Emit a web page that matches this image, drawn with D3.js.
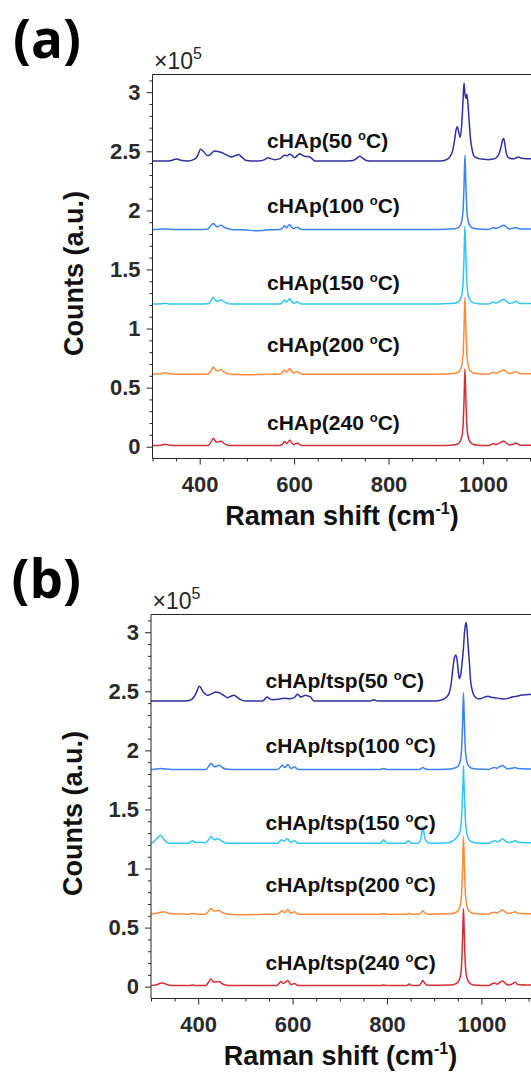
<!DOCTYPE html>
<html>
<head>
<meta charset="utf-8">
<script src="https://cdn.jsdelivr.net/npm/d3@7"></script>
<style>
  html, body { margin: 0; padding: 0; background: #fff; }
  svg { display: block; overflow: hidden; }
</style>
</head>
<body>
<svg id="chart" width="531" height="1075"></svg>
<script>
// ---------------- DATA ----------------
const temperatures = [50, 100, 150, 200, 240];
const prefixA = "cHAp";
const prefixB = "cHAp/tsp";
const xTicksMajor = [400, 600, 800, 1000];
const xTickLabels = ["400", "600", "800", "1000"];
const yTicksMajor = [0, 0.5, 1, 1.5, 2, 2.5, 3];
const yTickLabels = ["0", "0.5", "1", "1.5", "2", "2.5", "3"];
const offsetsA = [2.418, 1.838, 1.207, 0.614, 0.009];
const offsetsB = [2.418, 1.838, 1.213, 0.614, 0.009];

// spectra: [Raman shift (cm-1), intensity above own baseline (x1e5 counts)]
const specA50 = [[300,0],[327,0],[340,0.005],[351,0.017],[362,0.004],[375,0],[387,0.011],[395,0.04],[402,0.099],[408,0.08],[417,0.045],[424,0.06],[431,0.085],[438,0.08],[445,0.074],[455,0.055],[467,0.034],[475,0.045],[482,0.054],[490,0.03],[497,0.006],[510,0],[524,0],[538,0.012],[545,0.028],[552,0.018],[559,0.011],[570,0.02],[580,0.048],[586,0.045],[591,0.06],[596,0.045],[601,0.028],[607,0.045],[612,0.062],[617,0.05],[622,0.04],[628,0.038],[633,0.034],[638,0.02],[644,0],[670,0],[700,0],[725,0.005],[732,0.02],[739,0.04],[746,0.022],[753,0.005],[765,0],[800,0],[850,0],[900,0],[916,0.003],[925,0.015],[930,0.034],[936,0.09],[940,0.176],[943,0.26],[946,0.29],[949,0.24],[952,0.2],[955,0.3],[958,0.52],[960,0.66],[962,0.57],[964,0.53],[966,0.565],[968,0.5],[971,0.33],[974,0.176],[977,0.1],[980,0.05],[985,0.03],[991,0.02],[1000,0.015],[1012,0.011],[1020,0.016],[1025,0.02],[1030,0.035],[1035,0.07],[1039,0.13],[1042,0.18],[1044,0.19],[1046,0.16],[1049,0.077],[1054,0.028],[1060,0.02],[1066,0.02],[1071,0.028],[1076,0.034],[1081,0.024],[1086,0.022],[1095,0.02],[1110,0.02]];
const specA100 = [[300,0],[320,0.003],[330,0.005],[345,0],[400,0],[416,0.002],[422,0.025],[429,0.051],[433,0.035],[437,0.023],[441,0.03],[446,0.037],[451,0.02],[457,0.011],[467,0],[500,-0.005],[517,-0.01],[531,-0.008],[545,-0.003],[570,0],[575,0.012],[580,0.031],[584,0.014],[587,0.03],[591,0.04],[595,0.02],[599,0.008],[603,0.016],[607,0.02],[611,0.008],[616,0],[700,0],[800,0],[900,0],[940,0.006],[945,0.012],[950,0.024],[953,0.044],[956,0.088],[958,0.165],[960,0.37],[962,0.63],[964,0.37],[966,0.165],[968,0.088],[971,0.044],[975,0.022],[980,0.01],[990,0.004],[1012,0],[1018,0.01],[1022,0.017],[1026,0.01],[1030,0.012],[1038,0.025],[1044,0.037],[1050,0.02],[1056,0.005],[1064,0.01],[1070,0.017],[1075,0.008],[1082,0.004],[1110,0.004]];
const specA150 = [[300,0],[320,0.003],[327,0.008],[335,0],[400,0],[418,0.002],[424,0.03],[429,0.057],[433,0.035],[437,0.023],[441,0.03],[446,0.034],[451,0.02],[457,0.008],[467,0],[570,0],[575,0.012],[580,0.034],[584,0.018],[587,0.028],[591,0.045],[595,0.02],[600,0.008],[604,0.016],[607,0.02],[611,0.008],[617,0],[700,0],[800,0],[900,0],[940,0.006],[945,0.013],[950,0.026],[953,0.047],[956,0.095],[958,0.18],[960,0.4],[962,0.66],[964,0.4],[966,0.18],[968,0.095],[971,0.047],[975,0.023],[980,0.01],[990,0.003],[1012,0],[1018,0.01],[1022,0.017],[1026,0.01],[1030,0.012],[1038,0.028],[1044,0.04],[1050,0.02],[1056,0.006],[1064,0.012],[1070,0.023],[1075,0.01],[1082,0.004],[1110,0.004]];
const specA200 = [[300,0],[318,0.004],[327,0.011],[336,0.003],[350,0],[400,0],[418,0.002],[424,0.03],[429,0.06],[433,0.038],[437,0.028],[441,0.033],[446,0.037],[451,0.02],[457,0.008],[467,0],[485,-0.004],[500,-0.006],[520,-0.004],[545,-0.001],[570,0],[575,0.012],[580,0.034],[584,0.018],[587,0.028],[591,0.048],[595,0.022],[600,0.008],[604,0.018],[607,0.023],[611,0.01],[617,0],[700,0],[800,0],[900,0],[940,0.006],[945,0.012],[950,0.025],[953,0.045],[956,0.09],[958,0.17],[960,0.38],[962,0.65],[964,0.38],[966,0.17],[968,0.09],[971,0.045],[975,0.022],[980,0.01],[990,0.004],[1012,0],[1018,0.01],[1022,0.017],[1026,0.01],[1030,0.012],[1038,0.025],[1044,0.037],[1050,0.02],[1056,0.006],[1064,0.012],[1070,0.023],[1075,0.01],[1082,0.004],[1110,0.004]];
const specA240 = [[300,0],[318,0.004],[327,0.011],[336,0.003],[350,0],[400,0],[418,0.002],[424,0.032],[429,0.063],[433,0.04],[437,0.03],[441,0.034],[446,0.037],[451,0.02],[457,0.008],[467,0],[570,0],[575,0.012],[580,0.034],[584,0.018],[587,0.028],[591,0.045],[595,0.022],[600,0.008],[604,0.018],[607,0.023],[611,0.01],[617,0],[700,0],[800,0],[900,0],[940,0.006],[945,0.012],[950,0.025],[953,0.045],[956,0.09],[958,0.17],[960,0.38],[962,0.65],[964,0.38],[966,0.17],[968,0.09],[971,0.045],[975,0.022],[980,0.01],[990,0.004],[1012,0],[1018,0.01],[1022,0.017],[1026,0.01],[1030,0.012],[1038,0.027],[1044,0.04],[1050,0.02],[1056,0.006],[1064,0.012],[1070,0.023],[1075,0.01],[1082,0.004],[1110,0.004]];

const specB50 = [[300,0],[370,0],[381,0.004],[391,0.034],[397,0.08],[402,0.125],[406,0.11],[409,0.085],[415,0.06],[420,0.048],[428,0.06],[437,0.077],[443,0.072],[448,0.062],[455,0.045],[462,0.028],[469,0.04],[476,0.048],[483,0.03],[490,0.011],[500,0],[536,0],[541,0.015],[546,0.034],[551,0.02],[557,0.011],[570,0.015],[582,0.023],[595,0.02],[603,0.026],[607,0.045],[610,0.057],[614,0.045],[617,0.034],[622,0.04],[627,0.048],[633,0.042],[638,0.034],[645,0],[700,0],[765,0],[772,0.01],[780,0],[900,0],[917,0.011],[925,0.03],[931,0.06],[936,0.15],[940,0.29],[943,0.37],[946,0.39],[949,0.33],[951,0.25],[953,0.19],[956,0.22],[959,0.32],[962,0.45],[964,0.57],[966,0.64],[968,0.665],[970,0.58],[972,0.46],[975,0.3],[977,0.176],[980,0.1],[983,0.06],[988,0.03],[993,0.02],[1000,0.022],[1008,0.035],[1014,0.04],[1020,0.032],[1028,0.028],[1040,0.02],[1048,0.017],[1056,0.022],[1065,0.034],[1075,0.04],[1085,0.05],[1100,0.055],[1110,0.06]];
const specB100 = [[300,0],[312,0.004],[321,0.008],[330,0.004],[345,0],[416,0],[422,0.025],[427,0.051],[431,0.035],[435,0.023],[440,0.03],[444,0.037],[450,0.02],[458,0.004],[470,0],[568,0],[573,0.015],[578,0.037],[583,0.018],[587,0.03],[590,0.043],[594,0.02],[597,0.008],[601,0.016],[604,0.023],[608,0.01],[613,0],[785,0],[793,0.008],[800,0],[868,0],[873,0.01],[876,0.017],[880,0.008],[886,0],[935,0.005],[945,0.015],[950,0.026],[953,0.046],[956,0.09],[958,0.17],[960,0.38],[962,0.65],[964,0.38],[966,0.17],[968,0.09],[971,0.045],[975,0.022],[980,0.01],[990,0.004],[1015,0],[1021,0.01],[1028,0.017],[1033,0.01],[1038,0.022],[1045,0.034],[1050,0.02],[1055,0.006],[1064,0.01],[1072,0.017],[1077,0.008],[1110,0.004]];
const specB150 = [[300,0],[305,0.008],[310,0.03],[316,0.055],[320,0.068],[324,0.055],[328,0.03],[333,0.01],[339,0],[377,0],[383,0.01],[388,0.023],[392,0.012],[395,0.008],[400,0.008],[406,0.01],[411,0.006],[416,0.008],[422,0.03],[427,0.06],[431,0.04],[435,0.03],[438,0.035],[442,0.04],[447,0.028],[451,0.017],[457,0.005],[462,0],[568,0],[572,0.012],[576,0.03],[581,0.018],[585,0.028],[589,0.04],[593,0.02],[596,0.008],[600,0.016],[604,0.023],[608,0.01],[612,0],[785,0],[789,0.012],[793,0.03],[797,0.012],[802,0],[838,0],[842,0.01],[845,0.023],[849,0.008],[854,0],[866,0],[870,0.02],[873,0.07],[876,0.14],[879,0.07],[882,0.025],[888,0.005],[895,0],[930,0.005],[938,0.018],[944,0.035],[950,0.06],[954,0.09],[957,0.17],[959,0.3],[961,0.52],[962,0.656],[963,0.52],[965,0.3],[967,0.15],[970,0.07],[974,0.03],[980,0.012],[990,0.004],[1015,0],[1022,0.012],[1029,0.023],[1034,0.012],[1040,0.025],[1045,0.04],[1051,0.02],[1057,0.008],[1065,0.012],[1072,0.023],[1078,0.01],[1110,0.005]];
const specB200 = [[300,0],[310,0.006],[318,0.014],[328,0.02],[335,0.01],[345,0.003],[380,0],[388,0.006],[395,0.002],[416,0],[422,0.025],[427,0.048],[431,0.032],[435,0.026],[440,0.028],[444,0.031],[450,0.015],[458,0.004],[470,-0.003],[500,-0.005],[540,-0.002],[568,0],[573,0.012],[578,0.028],[583,0.014],[587,0.028],[590,0.04],[594,0.018],[597,0.007],[601,0.015],[604,0.02],[608,0.008],[613,0],[788,0],[793,0.006],[798,0],[842,0],[847,0.006],[852,0],[868,0],[872,0.012],[876,0.028],[880,0.012],[886,0],[935,0.004],[945,0.014],[950,0.027],[953,0.047],[956,0.092],[958,0.175],[960,0.39],[962,0.66],[964,0.39],[966,0.175],[968,0.092],[971,0.046],[975,0.023],[980,0.01],[990,0.004],[1015,0],[1021,0.01],[1028,0.017],[1033,0.01],[1038,0.022],[1045,0.034],[1050,0.02],[1055,0.006],[1064,0.01],[1072,0.02],[1077,0.008],[1110,0.004]];
const specB240 = [[300,0],[312,0.008],[320,0.02],[325,0.023],[332,0.012],[340,0.003],[350,0],[383,0],[388,0.005],[393,0],[416,0],[422,0.03],[427,0.057],[431,0.036],[435,0.03],[440,0.032],[444,0.034],[450,0.018],[458,0.005],[470,0],[566,0],[570,0.012],[575,0.034],[580,0.02],[585,0.03],[590,0.043],[594,0.02],[597,0.008],[601,0.014],[604,0.017],[608,0.008],[613,0],[788,0],[793,0.006],[798,0],[842,0],[847,0.014],[852,0],[868,0],[872,0.02],[876,0.043],[880,0.02],[886,0.003],[935,0.005],[945,0.015],[950,0.028],[953,0.048],[956,0.093],[958,0.175],[960,0.39],[962,0.653],[964,0.39],[966,0.175],[968,0.092],[971,0.046],[975,0.023],[980,0.01],[990,0.004],[1015,0],[1021,0.012],[1028,0.023],[1033,0.012],[1038,0.025],[1045,0.04],[1050,0.022],[1056,0.006],[1064,0.012],[1072,0.028],[1077,0.01],[1110,0.004]];

const spectraA = [specA50, specA100, specA150, specA200, specA240];
const spectraB = [specB50, specB100, specB150, specB200, specB240];

// ---------------- STYLE / LAYOUT ----------------
const colors = ["#2f2fa0", "#3a82f7", "#30c5f4", "#ff8a3c", "#d32f36"];
const labelLevels = [2.528, 1.978, 1.326, 0.801, 0.141]; // label baselines (data units)
const FONT = "'Liberation Sans', Arial, Helvetica, sans-serif";
const AX = "#262626";

const svg = d3.select("#chart");

function drawPanel(cfg) {
  const g = svg.append("g").attr("transform", `translate(${cfg.dx},${cfg.dy})`);
  const x = d3.scaleLinear().domain([300, 1200]).range([152.5, 152.5 + 900 * 0.472]);
  const y = d3.scaleLinear().domain([-0.1, 3.15]).range([458.5, 74.5]);

  // spectra
  const line = d3.line().x(d => x(d[0])).curve(d3.curveMonotoneX);
  cfg.spectra.forEach((s, i) => {
    const off = cfg.offsets[i];
    g.append("path")
      .attr("d", line.y(d => y(d[1] + off))(s))
      .attr("fill", "none")
      .attr("stroke", colors[i])
      .attr("stroke-width", 1.5)
      .attr("stroke-linejoin", "round");
  });

  // frame
  const [x0] = x.range();
  const [yb, yt] = y.range();
  g.append("line").attr("x1", x0).attr("x2", 900).attr("y1", yt).attr("y2", yt).attr("stroke", AX).attr("stroke-width", 1);
  g.append("line").attr("x1", x0).attr("x2", 900).attr("y1", yb).attr("y2", yb).attr("stroke", AX).attr("stroke-width", 1);
  g.append("line").attr("x1", x0).attr("x2", x0).attr("y1", yt).attr("y2", yb).attr("stroke", AX).attr("stroke-width", 1);

  // y axis
  const yMinor = d3.range(0, 32).map(k => k / 10).filter(v => !yTicksMajor.includes(v));
  const yMin = g.append("g").attr("transform", `translate(${x0},0)`)
    .call(d3.axisLeft(y).tickValues(yMinor).tickSize(3).tickFormat(""));
  const yMaj = g.append("g").attr("transform", `translate(${x0},0)`)
    .call(d3.axisLeft(y).tickValues(yTicksMajor).tickSize(6).tickPadding(6)
      .tickFormat((d, i) => yTickLabels[i]));
  // x axis
  const xMinor = d3.range(300, 1201, 50).filter(v => !xTicksMajor.includes(v) && v !== 1200);
  const xMin = g.append("g").attr("transform", `translate(0,${yb})`)
    .call(d3.axisBottom(x).tickValues(xMinor).tickSize(3).tickFormat(""));
  const xMaj = g.append("g").attr("transform", `translate(0,${yb})`)
    .call(d3.axisBottom(x).tickValues(xTicksMajor).tickSize(6).tickPadding(12)
      .tickFormat((d, i) => xTickLabels[i]));
  [yMin, yMaj, xMin, xMaj].forEach(a => {
    a.select(".domain").remove();
    a.selectAll("line").attr("stroke", AX);
    a.selectAll("text").attr("fill", "#2a2a2a").style("font-family", FONT)
      .style("font-weight", "bold").style("font-size", "22px");
  });

  // exponent
  const ex = g.append("text").attr("x", 154).attr("y", 69)
    .style("font-family", FONT).style("font-size", "23px").attr("fill", AX);
  ex.append("tspan").text("×10");
  ex.append("tspan").attr("dy", -10).style("font-size", "16px").text("5");

  // series labels
  temperatures.forEach((t, i) => {
    const tx = g.append("text").attr("x", 267).attr("y", y(labelLevels[i]))
      .style("font-family", FONT).style("font-weight", "bold").style("font-size", "21px").attr("fill", "#111");
    tx.append("tspan").text(`${cfg.prefix}(${t} `);
    tx.append("tspan").attr("dy", -8).style("font-size", "13px").text("o");
    tx.append("tspan").attr("dy", 8).text("C)");
  });

  // axis titles
  const xt = g.append("text").attr("x", 342).attr("y", 525).attr("text-anchor", "middle")
    .style("font-family", FONT).style("font-weight", "bold").style("font-size", "27px").attr("fill", "#111");
  xt.append("tspan").text("Raman shift (cm");
  xt.append("tspan").attr("dy", -11).style("font-size", "16px").text("-1");
  xt.append("tspan").attr("dy", 11).text(")");

  g.append("text").attr("transform", "translate(83,273.5) rotate(-90)").attr("text-anchor", "middle")
    .style("font-family", FONT).style("font-weight", "bold").style("font-size", "27px").attr("fill", "#111")
    .text("Counts (a.u.)");

  // panel letter
  g.append("text").attr("x", 13).attr("y", 58)
    .style("font-family", "'Open Sans', 'Noto Sans', sans-serif").style("font-weight", "bold")
    .style("font-size", "53px").attr("fill", "#000").text(cfg.letter);
}

drawPanel({ letter: "(a)", dx: 0, dy: 0, prefix: prefixA, spectra: spectraA, offsets: offsetsA });
drawPanel({ letter: "(b)", dx: -1.5, dy: 540, prefix: prefixB, spectra: spectraB, offsets: offsetsB });
</script>
</body>
</html>
